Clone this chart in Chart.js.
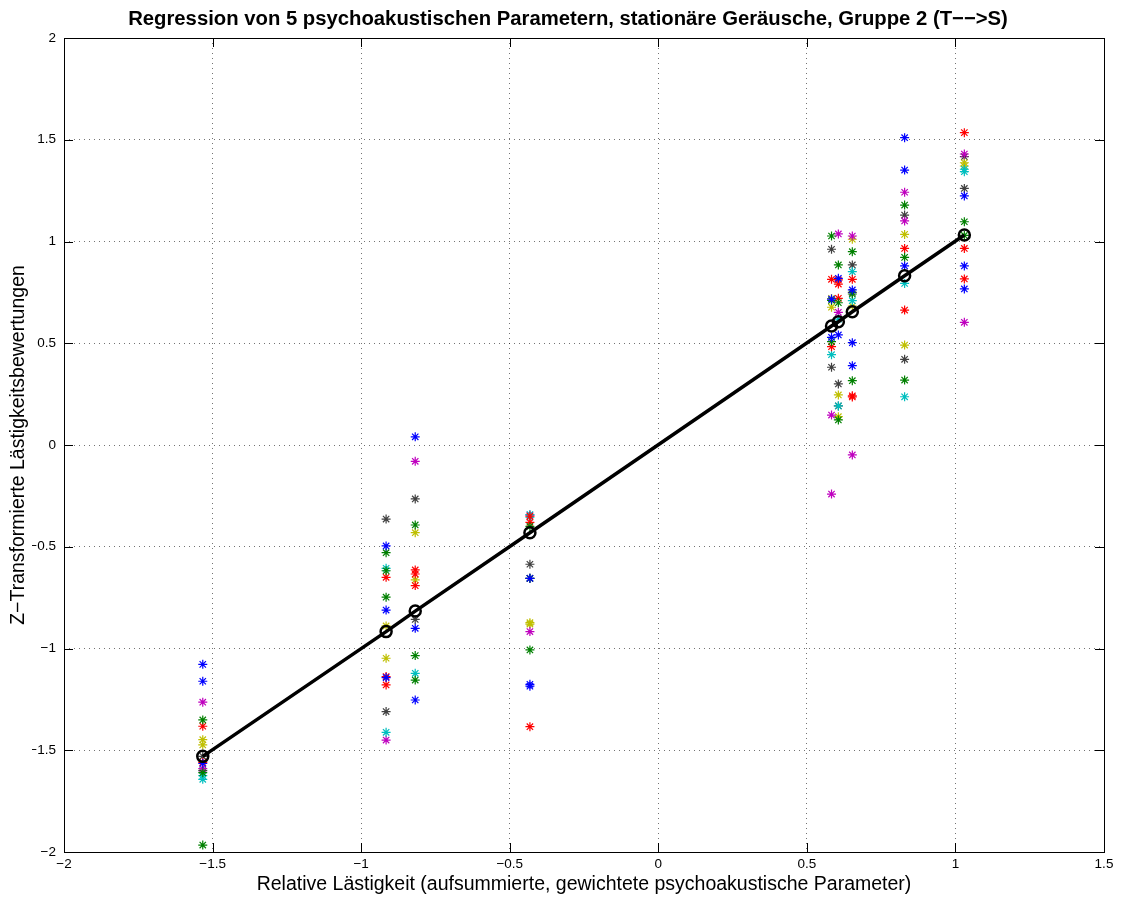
<!DOCTYPE html>
<html>
<head>
<meta charset="utf-8">
<script src="https://cdn.jsdelivr.net/npm/chart.js@4/dist/chart.umd.min.js"></script>
<style>
  html, body { margin: 0; padding: 0; background: #fff; }
  #wrap { width: 1121px; height: 899px; }
</style>
</head>
<body>
<div id="wrap"><canvas id="c" width="1121" height="899"></canvas></div>
<script>
// Stimuli: relative annoyance (x) and regression fit (y)
const stimulusX = [-1.533, -0.916, -0.818, -0.432, 0.583, 0.606, 0.653, 0.829, 1.03];
const fitY      = [-1.530, -0.917, -0.816, -0.431, 0.585, 0.606, 0.655, 0.832, 1.032];

// Individual z-transformed ratings, grouped by marker colour, one list per stimulus
const blueVals = [
  [-1.078, -1.161, -1.565], [-0.496, -0.811, -1.143], [0.04, -0.901, -1.253],
  [-0.655, -1.176, -1.185], [0.717, 0.529], [0.819, 0.541],
  [0.762, 0.503, 0.39], [1.51, 1.351, 0.88], [1.224, 0.88, 0.767]
];
const greenVals = [
  [-1.351, -1.61, -1.966], [-0.529, -0.618, -0.748], [-0.393, -1.035, -1.155],
  [-0.40, -0.655, -1.007], [1.027, 0.508, 0.71], [0.885, 0.699, 0.123],
  [0.95, 0.742, 0.316], [1.179, 0.922, 0.319], [1.097, 1.03]
];
const redVals = [
  [-1.382, -1.56], [-0.65, -1.138, -1.179], [-0.614, -0.634, -0.691],
  [-0.35, -0.38, -1.384], [0.814, 0.483], [0.811, 0.791, 0.721],
  [0.814, 0.242, 0.236], [0.966, 0.663], [1.535, 0.966, 0.816]
];
const cyanVals = [
  [-1.643, -1.625], [-0.606, -1.412], [-1.122],
  [-0.342, -0.355], [0.444], [0.618, 0.192],
  [0.852, 0.709], [0.794, 0.237], [1.355, 1.343]
];
const magentaVals = [
  [-1.264, -1.59], [-1.45], [-0.08],
  [-0.345, -0.917], [0.147, -0.241], [1.037, 0.652],
  [1.027, -0.049], [1.242, 1.101], [1.43, 0.603]
];
const yellowVals = [
  [-1.448, -1.474], [-0.889, -1.048], [-0.431, -0.663],
  [-0.873, -0.88], [0.72, 0.677], [0.246, 0.139],
  [1.011, 0.683], [1.035, 0.491], [1.387, 1.371]
];
const grayVals = [
  [-1.53, -1.60], [-0.364, -1.31], [-0.265, -0.857],
  [-0.586, -0.655], [0.962, 0.382], [0.30, 0.192],
  [0.885, 0.75], [1.13, 0.421], [1.417, 1.261]
];

const xTicks = [-2, -1.5, -1, -0.5, 0, 0.5, 1, 1.5];
const yTicks = [-2, -1.5, -1, -0.5, 0, 0.5, 1, 1.5, 2];

const titleText = 'Regression von 5 psychoakustischen Parametern, stationäre Geräusche, Gruppe 2 (T\u2212\u2212>S)';
const xTitle = 'Relative Lästigkeit (aufsummierte, gewichtete psychoakustische Parameter)';
const yTitle = 'Z\u2212Transformierte Lästigkeitsbewertungen';

const groups = [
  { vals: blueVals,    color: '#0000ff' },
  { vals: greenVals,   color: '#008000' },
  { vals: redVals,     color: '#ff0000' },
  { vals: cyanVals,    color: '#00bfbf' },
  { vals: magentaVals, color: '#bf00bf' },
  { vals: yellowVals,  color: '#bfbf00' },
  { vals: grayVals,    color: '#404040' }
];

function toPoints(vals) {
  const pts = [];
  vals.forEach((list, i) => list.forEach(v => pts.push({ x: stimulusX[i], y: v })));
  return pts;
}

const fmt = v => (v < 0 ? '\u2212' + String(Math.abs(v)) : String(v));

const FONT = "'Liberation Sans', Arial, Helvetica, sans-serif";
const PLOT = { left: 64, right: 1104, top: 38, bottom: 852 };
const PADL = 32;

const datasets = [{
  type: 'line',
  data: stimulusX.map((x, i) => ({ x: x, y: fitY[i] })),
  borderColor: '#000',
  borderWidth: 3.5,
  pointStyle: 'circle',
  pointRadius: 5.5,
  pointBorderWidth: 2.5,
  pointBorderColor: '#000',
  pointBackgroundColor: 'rgba(0,0,0,0)',
  tension: 0,
  order: 0
}];
groups.forEach(g => datasets.push({
  type: 'scatter',
  data: toPoints(g.vals),
  borderColor: g.color,
  backgroundColor: g.color,
  pointStyle: 'star',
  pointRadius: 4.5,
  pointBorderWidth: 1.2,
  order: 1
}));

const frameTicks = {
  id: 'frameTicks',
  afterDatasetsDraw(chart) {
    const { ctx, chartArea: a, scales } = chart;
    ctx.save();
    ctx.strokeStyle = '#000';
    ctx.lineWidth = 1;
    ctx.beginPath();
    const L = 9;
    xTicks.forEach(v => {
      const x = Math.round(scales.x.getPixelForValue(v)) + 0.5;
      ctx.moveTo(x, a.bottom); ctx.lineTo(x, a.bottom - L);
      ctx.moveTo(x, a.top); ctx.lineTo(x, a.top + L);
    });
    yTicks.forEach(v => {
      const y = Math.round(scales.y.getPixelForValue(v)) + 0.5;
      ctx.moveTo(a.left, y); ctx.lineTo(a.left + L, y);
      ctx.moveTo(a.right, y); ctx.lineTo(a.right - L, y);
    });
    ctx.stroke();
    ctx.strokeRect(Math.round(a.left) + 0.5, Math.round(a.top) + 0.5,
                   Math.round(a.right - a.left), Math.round(a.bottom - a.top));
    ctx.restore();
  }
};

new Chart(document.getElementById('c'), {
  data: { datasets },
  plugins: [frameTicks],
  options: {
    responsive: false,
    animation: false,
    layout: { padding: { left: PADL, right: 1121 - PLOT.right, top: 0, bottom: 0 } },
    plugins: {
      legend: { display: false },
      tooltip: { enabled: false },
      title: {
        display: true,
        text: titleText,
        color: '#000',
        font: { family: FONT, size: 20.3, weight: 'bold', lineHeight: 1.2 },
        padding: { top: 7, bottom: PLOT.top - 7 - 20.3 * 1.2 }
      }
    },
    scales: {
      x: {
        type: 'linear',
        min: -2, max: 1.5,
        afterBuildTicks: s => { s.ticks = xTicks.map(v => ({ value: v })); },
        afterFit: s => { s.height = 899 - PLOT.bottom; },
        ticks: { callback: fmt, color: '#000', padding: 4, maxRotation: 0, autoSkip: false,
                 font: { family: FONT, size: 13.5 } },
        grid: { color: 'rgba(0,0,0,0.55)', lineWidth: 1, drawTicks: false },
        border: { display: false, dash: [1, 4] },
        title: { display: true, text: xTitle, color: '#000',
                 font: { family: FONT, size: 19.5, lineHeight: 1.2 },
                 padding: { top: 0, bottom: 3 } }
      },
      y: {
        type: 'linear',
        min: -2, max: 2,
        afterBuildTicks: s => { s.ticks = yTicks.map(v => ({ value: v })); },
        afterFit: s => { s.width = PLOT.left - PADL; },
        ticks: { callback: fmt, color: '#000', padding: 8, autoSkip: false,
                 font: { family: FONT, size: 13.5 } },
        grid: { color: 'rgba(0,0,0,0.55)', lineWidth: 1, drawTicks: false },
        border: { display: false, dash: [1, 4] },
        title: { display: true, text: yTitle, color: '#000',
                 font: { family: FONT, size: 19.5, lineHeight: 1.2 },
                 padding: { top: 7 - PADL, bottom: 0 } }
      }
    }
  }
});
</script>
</body>
</html>
